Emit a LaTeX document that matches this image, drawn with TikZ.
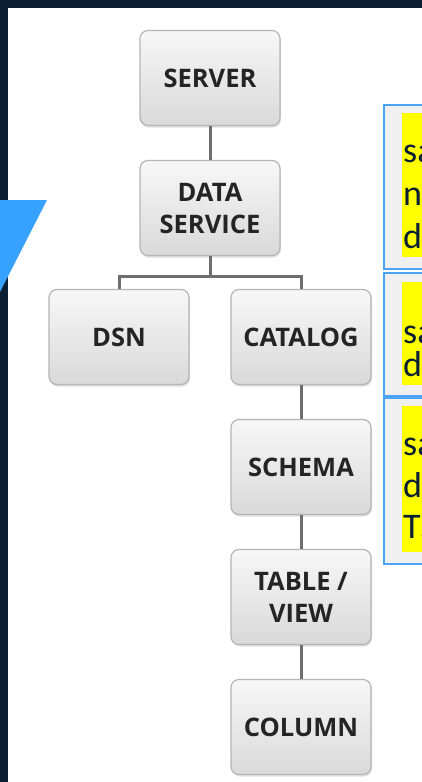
\documentclass[tikz,border=0pt]{standalone}
\usepackage{fontspec}
\usetikzlibrary{shadows}
\newfontfamily\labelfont{Open Sans}
\newfontfamily\notefont{Carlito}

\begin{document}
\begin{tikzpicture}[x=1pt, y=-1pt,
	levelbox/.style={draw=boxedge, line width=1.2pt, rounded corners=8pt,
		top color=boxtop, bottom color=boxbottom,
		minimum width=140pt, minimum height=95pt, align=center, text=boxtext,
		font=\labelfont\bfseries\fontsize{25.5}{32}\selectfont,
		drop shadow={opacity=0.25, shadow xshift=1pt, shadow yshift=-2pt}},
	link/.style={draw=linkgray, line width=3pt},
	notebox/.style={draw=noteblue, line width=2pt, fill=notefill,
		anchor=north west, minimum width=80pt, inner sep=0pt},
	marktext/.style={anchor=base west, inner sep=0pt, text=notetext,
		font=\notefont\fontsize{36}{43}\selectfont}]

	% Define colors
	\definecolor{frame}{rgb}{0.04, 0.12, 0.2}
	\definecolor{arrowblue}{rgb}{0.21, 0.63, 1}
	\definecolor{noteblue}{rgb}{0.29, 0.64, 0.96}
	\definecolor{notefill}{rgb}{0.94, 0.94, 0.94}
	\definecolor{notetext}{rgb}{0.04, 0.12, 0.2}
	\definecolor{markyellow}{rgb}{1, 1, 0}
	\definecolor{boxtop}{rgb}{0.97, 0.97, 0.97}
	\definecolor{boxbottom}{rgb}{0.85, 0.85, 0.85}
	\definecolor{boxedge}{rgb}{0.71, 0.71, 0.71}
	\definecolor{boxtext}{rgb}{0.14, 0.14, 0.14}
	\definecolor{linkgray}{rgb}{0.43, 0.43, 0.43}

	\useasboundingbox (0,0) rectangle (422,782);
	\clip (0,0) rectangle (422,782);

	% Draw the background and the dark frame
	\fill[white] (0,0) rectangle (422,782);
	\fill[frame] (0,0) rectangle (422,8);
	\fill[frame] (0,0) rectangle (8,782);

	% Draw the blue triangle
	\fill[arrowblue] (0,200) -- (47,200) -- (0,292) -- cycle;

	% Draw the hierarchy
	\node[levelbox] (server) at (210,78) {SERVER};
	\node[levelbox] (service) at (210,208) {DATA\\SERVICE};
	\node[levelbox] (dsn) at (119,337) {DSN};
	\node[levelbox] (catalog) at (301,337) {CATALOG};
	\node[levelbox] (schema) at (301,467) {SCHEMA};
	\node[levelbox] (table) at (301,597) {TABLE /\\VIEW};
	\node[levelbox] (column) at (301,727) {COLUMN};

	% Draw the links
	\draw[link] (server) -- (service);
	\draw[link] (service.south) -- ++(0,20) coordinate (fork) -| (dsn.north);
	\draw[link] (fork) -| (catalog.north);
	\draw[link] (catalog) -- (schema);
	\draw[link] (schema) -- (table);
	\draw[link] (table) -- (column);

	% Draw the note boxes
	\node[notebox, minimum height=164pt] (note1) at (383,104) {};
	\node[notebox, minimum height=123pt] (note2) at (383,272) {};
	\node[notebox, minimum height=166pt] (note3) at (383,397) {};

	% Draw the highlights
	\fill[markyellow] (402,113) rectangle (440,257);
	\fill[markyellow] (402,282) rectangle (440,385);
	\fill[markyellow] (402,406) rectangle (440,552);

	% Draw the note texts
	\foreach \txt/\ypos in {sa/162, n/205, d/248, sa/343, d/376, sa/455, d/497, TS/538} {
		\node[marktext] (line\ypos) at (403,\ypos) {\txt};
	}

\end{tikzpicture}
\end{document}
